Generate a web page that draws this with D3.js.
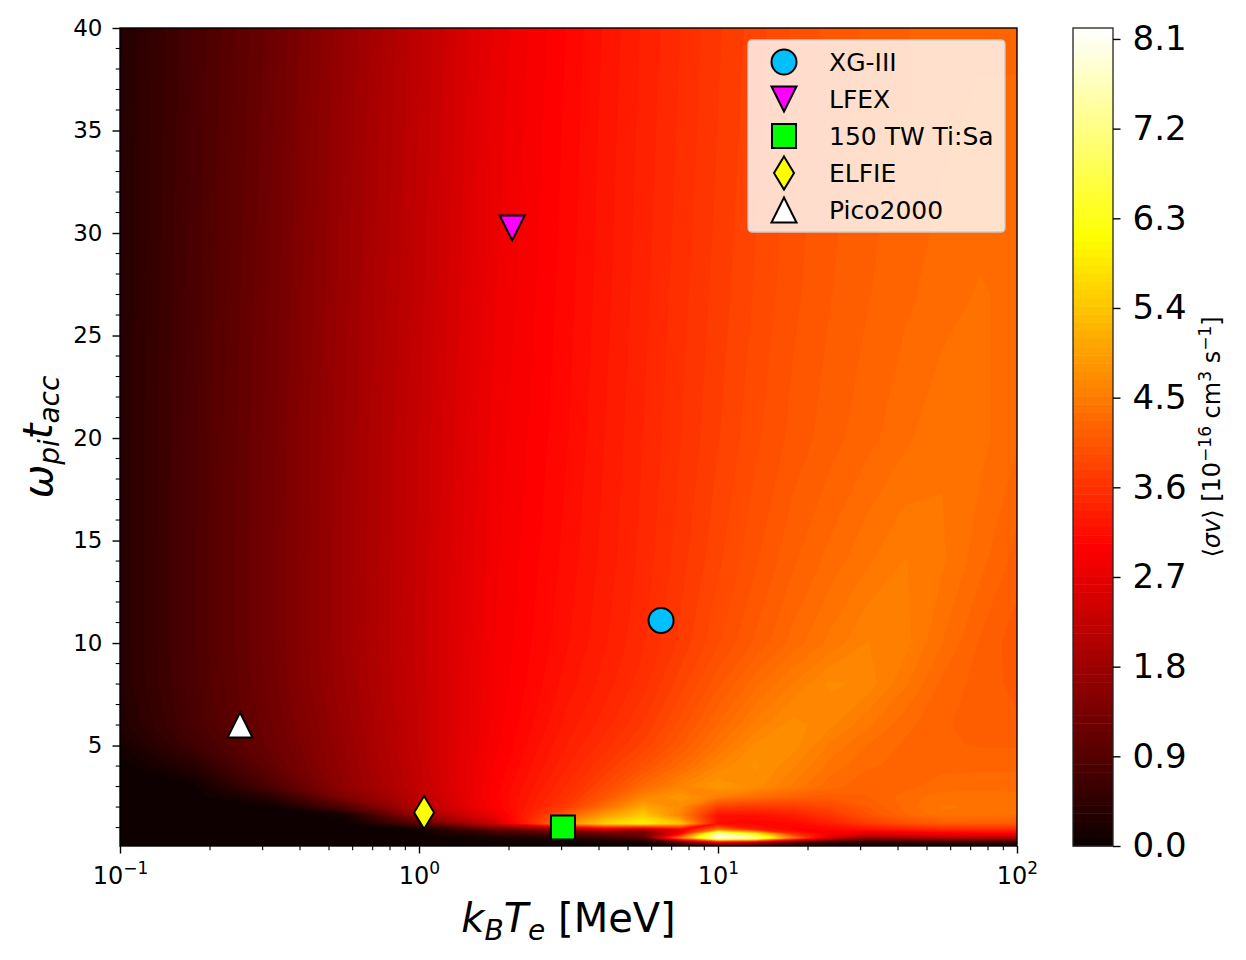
<!DOCTYPE html>
<html>
<head>
<meta charset="utf-8">
<script src="https://cdn.jsdelivr.net/npm/d3@7"></script>
<style>
  body { margin: 0; background: #fff; }
  text { font-family: "DejaVu Sans", sans-serif; fill: #000; }
</style>
</head>
<body>
<svg id="chart" width="1246" height="960"></svg>
<script>
// sample columns: log10(kB Te / MeV)
const logTe = [-1, -0.75, -0.5, -0.25, 0, 0.25, 0.5, 0.625, 0.75, 0.875, 1, 1.125, 1.25, 1.375, 1.5, 1.625, 1.75, 1.875, 2];
// sample rows: omega_pi t_acc, top to bottom
const wt = [40, 34, 27, 20, 14, 10, 8, 6, 5, 4, 3, 2.5, 2, 1.6, 1.2, 0.9, 0.7, 0.5, 0.3, 0.1];
// <sigma v> [1e-16 cm^3/s], one row per wt value
const sigv = [
  [0.31, 0.75, 1.18, 1.72, 2.20, 2.72, 3.05, 3.22, 3.38, 3.53, 3.68, 3.82, 3.95, 4.05, 4.12, 4.18, 4.22, 4.25, 4.25],
  [0.32, 0.77, 1.21, 1.75, 2.23, 2.75, 3.07, 3.24, 3.40, 3.55, 3.70, 3.84, 3.97, 4.07, 4.15, 4.21, 4.26, 4.30, 4.30],
  [0.33, 0.79, 1.24, 1.78, 2.26, 2.78, 3.09, 3.26, 3.42, 3.58, 3.73, 3.87, 4.00, 4.10, 4.18, 4.25, 4.31, 4.36, 4.33],
  [0.34, 0.81, 1.27, 1.81, 2.30, 2.82, 3.12, 3.29, 3.45, 3.61, 3.77, 3.92, 4.05, 4.15, 4.24, 4.33, 4.42, 4.38, 4.28],
  [0.34, 0.82, 1.28, 1.82, 2.32, 2.85, 3.16, 3.32, 3.48, 3.66, 3.84, 4.01, 4.17, 4.30, 4.42, 4.52, 4.45, 4.30, 4.15],
  [0.34, 0.82, 1.28, 1.82, 2.33, 2.87, 3.20, 3.36, 3.52, 3.72, 3.93, 4.12, 4.30, 4.46, 4.60, 4.55, 4.35, 4.18, 4.05],
  [0.33, 0.81, 1.26, 1.80, 2.32, 2.88, 3.25, 3.41, 3.58, 3.82, 4.08, 4.32, 4.52, 4.70, 4.65, 4.45, 4.25, 4.15, 4.08],
  [0.27, 0.77, 1.21, 1.75, 2.30, 2.90, 3.32, 3.50, 3.70, 3.98, 4.28, 4.55, 4.72, 4.62, 4.45, 4.30, 4.20, 4.15, 4.12],
  [0.15, 0.66, 1.17, 1.72, 2.30, 2.92, 3.38, 3.58, 3.80, 4.10, 4.42, 4.70, 4.72, 4.50, 4.35, 4.25, 4.20, 4.18, 4.18],
  [0.03, 0.36, 1.08, 1.70, 2.28, 2.95, 3.45, 3.70, 4.00, 4.30, 4.62, 4.78, 4.62, 4.40, 4.28, 4.25, 4.25, 4.25, 4.25],
  [0.02, 0.05, 0.80, 1.64, 2.25, 2.98, 3.55, 3.90, 4.30, 4.62, 4.85, 4.72, 4.50, 4.30, 4.22, 4.25, 4.30, 4.32, 4.32],
  [0.02, 0.02, 0.38, 1.45, 2.18, 3.00, 3.62, 4.05, 4.60, 4.85, 4.55, 4.35, 4.20, 4.15, 4.18, 4.30, 4.40, 4.40, 4.38],
  [0.02, 0.02, 0.03, 0.85, 2.10, 2.95, 3.75, 4.40, 5.05, 4.70, 3.75, 3.65, 3.70, 3.85, 4.10, 4.30, 4.45, 4.42, 4.40],
  [0.02, 0.02, 0.02, 0.12, 1.75, 2.75, 4.20, 4.95, 5.50, 4.60, 3.20, 3.20, 3.35, 3.65, 4.00, 4.25, 4.40, 4.38, 4.35],
  [0.02, 0.02, 0.02, 0.03, 0.95, 2.35, 4.80, 5.60, 6.00, 5.40, 3.10, 3.05, 3.10, 3.35, 3.70, 3.95, 4.10, 4.10, 4.10],
  [0.02, 0.02, 0.02, 0.02, 0.06, 1.05, 1.80, 2.20, 1.80, 2.80, 4.50, 3.40, 3.00, 3.05, 3.20, 3.35, 3.45, 3.50, 3.50],
  [0.02, 0.02, 0.02, 0.02, 0.03, 0.55, 1.00, 1.10, 1.20, 3.00, 7.60, 6.00, 3.60, 2.90, 2.60, 2.70, 2.80, 2.90, 2.90],
  [0.02, 0.02, 0.02, 0.02, 0.02, 0.20, 0.35, 0.60, 1.00, 4.50, 8.10, 7.60, 4.50, 2.50, 1.70, 1.90, 2.10, 2.10, 2.10],
  [0.02, 0.02, 0.02, 0.02, 0.02, 0.05, 0.10, 0.15, 0.20, 1.20, 3.00, 2.50, 1.20, 0.70, 0.50, 0.55, 0.60, 0.60, 0.60],
  [0.02, 0.02, 0.02, 0.02, 0.02, 0.03, 0.03, 0.03, 0.03, 0.15, 0.30, 0.25, 0.20, 0.10, 0.05, 0.05, 0.05, 0.05, 0.05]
];

const facilities = ["XG-III", "LFEX", "150 TW Ti:Sa", "ELFIE", "Pico2000"];
const facTe = [6.45, 2.05, 3.03, 1.04, 0.252];
const facWt = [11.1, 30.25, 1.0, 1.73, 6.0];
const facColor = ["#00bfff", "#ff00ff", "#00ff00", "#ffff00", "#ffffff"];
const facShape = ["circle", "triDown", "square", "thinDiamond", "triUp"];

const cbTicks = [0, 0.9, 1.8, 2.7, 3.6, 4.5, 5.4, 6.3, 7.2, 8.1];
const xTicks = [0.1, 1, 10, 100];
const xExp = ["\u22121", "0", "1", "2"];
const yTicks = [5, 10, 15, 20, 25, 30, 35, 40];

const vmax = 8.21, nLev = 100;
const levels = d3.range(nLev + 1).map(i => i * vmax / nLev);

const W = 1246, H = 960;
const m = {left: 120, right: 1017, top: 28, bottom: 846};

const svg = d3.select("#chart");
svg.append("rect").attr("width", W).attr("height", H).attr("fill", "#fff");

const x = d3.scaleLog().domain([0.1, 100]).range([m.left, m.right]);
const y = d3.scaleLinear().domain([0.1, 40]).range([m.bottom, m.top]);

// matplotlib "hot"
const hot = d3.scaleLinear()
  .domain([0, 0.365079, 0.746032, 1])
  .range(["#0b0000", "#ff0000", "#ffff00", "#ffffff"])
  .clamp(true);
const bandColor = i => hot(((levels[i] + levels[i + 1]) / 2) / vmax);

svg.append("clipPath").attr("id", "clip").append("rect")
  .attr("x", m.left).attr("y", m.top)
  .attr("width", m.right - m.left).attr("height", m.bottom - m.top);

// filled contours
const nx = logTe.length, ny = wt.length;
const colLog = d3.scaleLinear().domain(d3.range(nx)).range(logTe);
const rowWt = d3.scaleLinear().domain(d3.range(ny)).range(wt);
const proj = d3.geoTransform({
  point(cx, cy) {
    this.stream.point(x(Math.pow(10, colLog(cx - 0.5))), y(rowWt(cy - 0.5)));
  }
});
const gpath = d3.geoPath(proj);

const contours = d3.contours()
  .size([nx, ny])
  .thresholds(levels.slice(0, nLev))(sigv.flat());

svg.append("g").attr("clip-path", "url(#clip)")
  .selectAll("path")
  .data(contours)
  .join("path")
  .attr("d", gpath)
  .attr("fill", (d, i) => bandColor(i));

// markers
const shapePath = (s) => {
  if (s === "circle") return d3.symbol(d3.symbolCircle, Math.PI * 12.5 * 12.5)();
  if (s === "square") return d3.symbol(d3.symbolSquare, 24 * 24)();
  if (s === "triUp") return "M0,-12.5L12.5,12.5L-12.5,12.5Z";
  if (s === "triDown") return "M0,12.5L12.5,-12.5L-12.5,-12.5Z";
  return "M0,-16.5L10,0L0,16.5L-10,0Z";
};

svg.append("g")
  .selectAll("path")
  .data(facilities)
  .join("path")
  .attr("transform", (d, i) => `translate(${x(facTe[i])},${y(facWt[i])})`)
  .attr("d", (d, i) => shapePath(facShape[i]))
  .attr("fill", (d, i) => facColor[i])
  .attr("stroke", "#000")
  .attr("stroke-width", 2);

// x axis
const xAxis = svg.append("g")
  .attr("transform", `translate(0,${m.bottom})`)
  .call(d3.axisBottom(x).tickValues(xTicks).tickSize(7.5).tickFormat(""));
xAxis.select(".domain").remove();
xAxis.selectAll(".tick line").attr("stroke-width", 1.4);
xAxis.selectAll(".tick").append("text")
  .attr("y", 38)
  .attr("text-anchor", "middle")
  .attr("font-size", 24)
  .each(function(d, i) {
    const t = d3.select(this);
    t.append("tspan").text("10");
    t.append("tspan").attr("dy", -10).attr("font-size", 17).text(xExp[i]);
  });

const xMinor = [];
[0.1, 1, 10].forEach(dec => d3.range(2, 10).forEach(k => xMinor.push(k * dec)));
svg.append("g").selectAll("line").data(xMinor).join("line")
  .attr("x1", d => x(d)).attr("x2", d => x(d))
  .attr("y1", m.bottom).attr("y2", m.bottom + 4.3)
  .attr("stroke", "#000").attr("stroke-width", 1.1);

// y axis
const yAxis = svg.append("g")
  .attr("transform", `translate(${m.left},0)`)
  .call(d3.axisLeft(y).tickValues(yTicks).tickSize(7.5).tickPadding(10));
yAxis.select(".domain").remove();
yAxis.selectAll(".tick line").attr("stroke-width", 1.4);
yAxis.selectAll(".tick text").attr("font-size", 23).attr("font-family", "DejaVu Sans");

const yMinor = d3.range(1, 40).filter(v => v % 5 !== 0);
svg.append("g").selectAll("line").data(yMinor).join("line")
  .attr("x1", m.left - 4.3).attr("x2", m.left)
  .attr("y1", d => y(d)).attr("y2", d => y(d))
  .attr("stroke", "#000").attr("stroke-width", 1.1);

// frame
svg.append("rect")
  .attr("x", m.left).attr("y", m.top)
  .attr("width", m.right - m.left).attr("height", m.bottom - m.top)
  .attr("fill", "none").attr("stroke", "#000").attr("stroke-width", 1.4);

// axis labels
svg.append("text")
  .attr("x", (m.left + m.right) / 2).attr("y", 932)
  .attr("text-anchor", "middle").attr("font-size", 40)
  .call(t => {
    t.append("tspan").attr("font-style", "italic").text("k");
    t.append("tspan").attr("font-style", "italic").attr("font-size", 28).attr("dy", 8).text("B");
    t.append("tspan").attr("font-style", "italic").attr("dy", -8).text("T");
    t.append("tspan").attr("font-style", "italic").attr("font-size", 28).attr("dy", 8).text("e");
    t.append("tspan").attr("dy", -8).text(" [MeV]");
  });

svg.append("text")
  .attr("transform", `translate(52,${(m.top + m.bottom) / 2}) rotate(-90)`)
  .attr("text-anchor", "middle").attr("font-size", 40).attr("font-style", "italic")
  .call(t => {
    t.append("tspan").text("\u03c9");
    t.append("tspan").attr("font-size", 28).attr("dy", 7).text("pi");
    t.append("tspan").attr("dy", -7).text("t");
    t.append("tspan").attr("font-size", 28).attr("dy", 7).text("acc");
  });

// colorbar
const cb = {x: 1073, w: 40};
const cbY = d3.scaleLinear().domain([0, vmax]).range([m.bottom, m.top]);
svg.append("g").selectAll("rect")
  .data(d3.range(nLev))
  .join("rect")
  .attr("x", cb.x).attr("width", cb.w)
  .attr("y", i => cbY(levels[i + 1]))
  .attr("height", i => cbY(levels[i]) - cbY(levels[i + 1]) + 0.5)
  .attr("fill", i => bandColor(i));
svg.append("rect")
  .attr("x", cb.x).attr("y", m.top).attr("width", cb.w).attr("height", m.bottom - m.top)
  .attr("fill", "none").attr("stroke", "#222").attr("stroke-width", 1.3);

const cbAxis = svg.append("g")
  .attr("transform", `translate(${cb.x + cb.w},0)`)
  .call(d3.axisRight(cbY).tickValues(cbTicks).tickFormat(d3.format(".1f")).tickSize(7.5).tickPadding(12));
cbAxis.select(".domain").remove();
cbAxis.selectAll(".tick line").attr("stroke-width", 1.4);
cbAxis.selectAll(".tick text").attr("font-size", 34).attr("font-family", "DejaVu Sans");

svg.append("text")
  .attr("transform", `translate(1220,${(m.top + m.bottom) / 2}) rotate(-90)`)
  .attr("text-anchor", "middle").attr("font-size", 24)
  .call(t => {
    t.append("tspan").text("\u27e8");
    t.append("tspan").attr("font-style", "italic").text("\u03c3v");
    t.append("tspan").text("\u27e9 [10");
    t.append("tspan").attr("font-size", 17).attr("dy", -9).text("\u221216");
    t.append("tspan").attr("dy", 9).text(" cm");
    t.append("tspan").attr("font-size", 17).attr("dy", -9).text("3");
    t.append("tspan").attr("dy", 9).text(" s");
    t.append("tspan").attr("font-size", 17).attr("dy", -9).text("\u22121");
    t.append("tspan").attr("dy", 9).text("]");
  });

// legend
const lg = svg.append("g");
lg.append("rect")
  .attr("x", 748).attr("y", 40).attr("width", 257).attr("height", 192).attr("rx", 4)
  .attr("fill", "#fff").attr("fill-opacity", 0.8)
  .attr("stroke", "#ccc").attr("stroke-width", 1.3);
const items = lg.selectAll("g.item").data(facilities).join("g")
  .attr("class", "item")
  .attr("transform", (d, i) => `translate(784,${62 + 37 * i})`);
items.append("path")
  .attr("d", (d, i) => shapePath(facShape[i]))
  .attr("fill", (d, i) => facColor[i])
  .attr("stroke", "#000").attr("stroke-width", 2);
items.append("text")
  .attr("x", 45).attr("dy", "0.36em")
  .attr("font-size", 25)
  .text(d => d);
</script>
</body>
</html>
